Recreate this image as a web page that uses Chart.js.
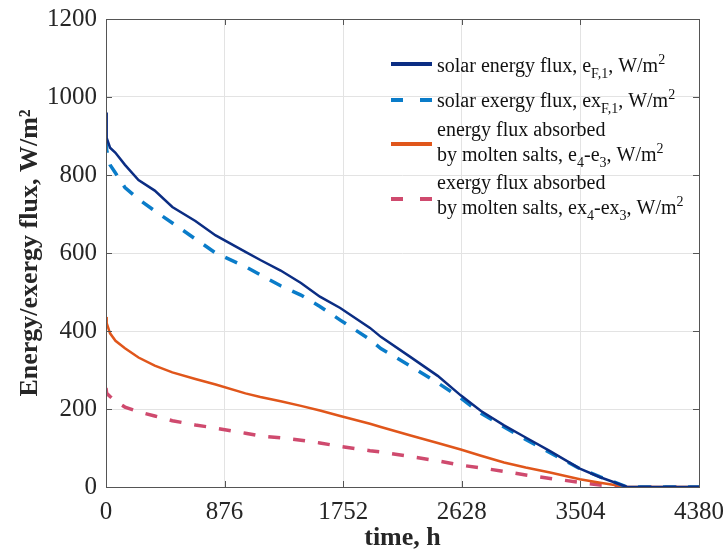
<!DOCTYPE html>
<html>
<head>
<meta charset="utf-8">
<script src="https://cdn.jsdelivr.net/npm/chart.js@4.4.0/dist/chart.umd.min.js"></script>
<style>
body { margin: 0; background: #fff; }
</style>
</head>
<body>
<canvas id="myChart" width="727" height="554"></canvas>
<script>
// time axis, h
var timeH = [0, 5, 30, 70, 140, 240, 360, 490, 660, 810, 1030, 1140, 1290, 1440, 1580, 1730,
             1950, 2030, 2250, 2450, 2620, 2770, 2940, 3100, 3280, 3500, 3650, 3850, 4380];
// solar energy flux e_F,1
var energySolar = [960, 895, 870, 857, 826, 787, 760, 718, 682, 645, 603, 582, 555, 523, 488, 459,
                   408, 385, 333, 285, 235, 195, 158, 127, 92, 47, 25, 0, 0];
// solar exergy flux ex_F,1
var exergySolar = [890, 864, 826, 805, 768, 738, 708, 677, 636, 600, 565, 544, 516, 492, 463, 428,
                   378, 355, 310, 267, 228, 189, 154, 122, 88, 47, 26, 0, 0];
// energy absorbed by molten salts e4-e3
var energySalt = [436, 420, 394, 375, 356, 332, 311, 294, 277, 263, 240, 231, 220, 208, 196, 182,
                  162, 154, 132, 113, 96, 80, 63, 50, 37, 20, 11, 0, 0];
// exergy absorbed by molten salts ex4-ex3
var exergySalt = [254, 240, 232, 220, 205, 193, 182, 170, 159, 151, 138, 131, 126, 120, 113, 104,
                  93, 90, 78, 67, 56, 49, 40, 31, 22, 12, 5, 0, 0];

var xTicks = [0, 876, 1752, 2628, 3504, 4380];
var yTicks = [0, 200, 400, 600, 800, 1000, 1200];

var colNavy = '#0b2d83';
var colBlue = '#0a7cc9';
var colOrange = '#e0561b';
var colPink = '#cf4a6e';

function pts(vals) {
    return timeH.map(function (t, i) { return {x: t, y: vals[i]}; });
}

// legend entries with sub/superscripts
var legendRows = [
    {color: colNavy, width: 4, dash: [], lineY: 64,
     lines: [[72, [['solar energy flux, e', ''], ['F,1', 'sub'], [', W/m', ''], ['2', 'sup']]]]},
    {color: colBlue, width: 4, dash: [12, 17], lineY: 100,
     lines: [[107, [['solar exergy flux, ex', ''], ['F,1', 'sub'], [', W/m', ''], ['2', 'sup']]]]},
    {color: colOrange, width: 4, dash: [], lineY: 144,
     lines: [[136, [['energy flux absorbed', '']]],
             [161, [['by molten salts, e', ''], ['4', 'sub'], ['-e', ''], ['3', 'sub'], [', W/m', ''], ['2', 'sup']]]]},
    {color: colPink, width: 4, dash: [12, 17], lineY: 199,
     lines: [[189, [['exergy flux absorbed', '']]],
             [214, [['by molten salts, ex', ''], ['4', 'sub'], ['-ex', ''], ['3', 'sub'], [', W/m', ''], ['2', 'sup']]]]}
];

var boxPlugin = {
    id: 'boxPlugin',
    afterDraw: function (chart) {
        var ctx = chart.ctx, a = chart.chartArea;
        var xs = chart.scales.x, ys = chart.scales.y;
        ctx.save();
        ctx.strokeStyle = '#555555';
        ctx.lineWidth = 1;
        ctx.strokeRect(a.left + 0.5, a.top + 0.5, a.right - a.left, a.bottom - a.top);
        ctx.beginPath();
        xTicks.forEach(function (v) {
            var px = Math.round(xs.getPixelForValue(v)) + 0.5;
            ctx.moveTo(px, a.bottom); ctx.lineTo(px, a.bottom - 6);
            ctx.moveTo(px, a.top); ctx.lineTo(px, a.top + 6);
        });
        yTicks.forEach(function (v) {
            var py = Math.round(ys.getPixelForValue(v)) + 0.5;
            ctx.moveTo(a.left, py); ctx.lineTo(a.left + 6, py);
            ctx.moveTo(a.right, py); ctx.lineTo(a.right - 6, py);
        });
        ctx.stroke();

        // legend
        legendRows.forEach(function (row) {
            ctx.beginPath();
            ctx.strokeStyle = row.color;
            ctx.lineWidth = row.width;
            ctx.setLineDash(row.dash);
            ctx.moveTo(391, row.lineY);
            ctx.lineTo(432, row.lineY);
            ctx.stroke();
            ctx.setLineDash([]);
            ctx.fillStyle = '#111111';
            ctx.textBaseline = 'alphabetic';
            ctx.textAlign = 'left';
            row.lines.forEach(function (ln) {
                var x = 437;
                ln[1].forEach(function (run) {
                    var dy = 0;
                    if (run[1] === 'sub') { ctx.font = '14px "Liberation Serif"'; dy = 6; }
                    else if (run[1] === 'sup') { ctx.font = '14px "Liberation Serif"'; dy = -8; }
                    else { ctx.font = '20px "Liberation Serif"'; }
                    ctx.fillText(run[0], x, ln[0] + dy);
                    x += ctx.measureText(run[0]).width;
                });
            });
        });
        ctx.restore();
    }
};

function noPad(s) {
    s.paddingTop = 0; s.paddingBottom = 0; s.paddingLeft = 0; s.paddingRight = 0;
}

var tickFont = {family: '"Liberation Serif", serif', size: 25};
var titleFont = {family: '"Liberation Serif", serif', size: 26, weight: 'bold'};

var ctx = document.querySelector('#myChart').getContext('2d');
var myChart = new Chart(ctx, {
    type: 'line',
    data: {
        datasets: [
            {data: pts(energySolar), borderColor: colNavy, borderWidth: 2.5},
            {data: pts(exergySolar), borderColor: colBlue, borderWidth: 3.5, borderDash: [13, 12]},
            {data: pts(energySalt), borderColor: colOrange, borderWidth: 2.5},
            {data: pts(exergySalt), borderColor: colPink, borderWidth: 3.5, borderDash: [12, 13]}
        ]
    },
    options: {
        responsive: false,
        animation: false,
        layout: {padding: {top: 19, right: 28, left: 0, bottom: 0}},
        elements: {point: {radius: 0}, line: {tension: 0, fill: false}},
        plugins: {legend: {display: false}, tooltip: {enabled: false}},
        scales: {
            x: {
                type: 'linear', min: 0, max: 4380,
                afterFit: function (s) { s.height = 67; noPad(s); },
                afterBuildTicks: function (s) { s.ticks = xTicks.map(function (v) { return {value: v}; }); },
                grid: {color: '#e3e3e3', drawTicks: false},
                border: {display: false},
                ticks: {font: tickFont, color: '#262626', padding: 10, maxRotation: 0,
                        callback: function (v) { return String(v); }},
                title: {display: true, text: 'time, h', font: titleFont, color: '#262626', padding: {top: 0, bottom: 0}}
            },
            y: {
                min: 0, max: 1200,
                afterFit: function (s) { s.width = 106; noPad(s); },
                afterBuildTicks: function (s) { s.ticks = yTicks.map(function (v) { return {value: v}; }); },
                grid: {color: '#e3e3e3', drawTicks: false},
                border: {display: false},
                ticks: {font: tickFont, color: '#262626', padding: 9,
                        callback: function (v) { return String(v); }},
                title: {display: true, text: 'Energy/exergy flux, W/m\u00b2', font: titleFont, color: '#262626', padding: {top: 15, bottom: 0}}
            }
        }
    },
    plugins: [boxPlugin]
});
</script>
</body>
</html>
